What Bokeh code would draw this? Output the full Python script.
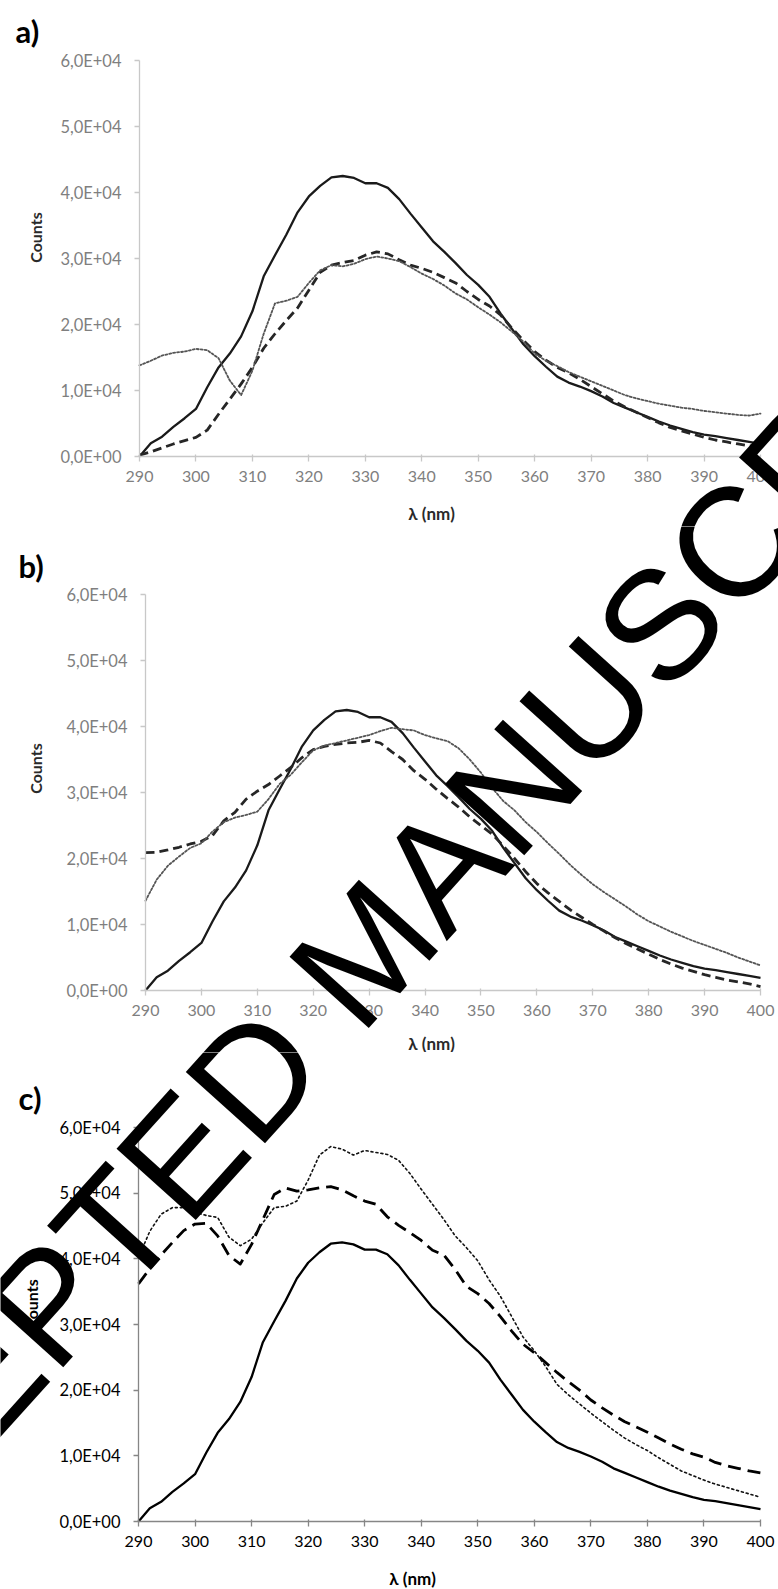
import math
from bokeh.plotting import figure
from bokeh.models import Label, FixedTicker, Range1d, LinearAxis
from bokeh.layouts import column
from bokeh.embed import file_html
from bokeh.resources import INLINE

# ---------------- data ----------------
wavelength = list(range(290, 402, 2))

reference_solid = [0, 2000, 3000, 4500, 5800, 7200, 10500, 13500, 15600, 18200,
                   22000, 27300, 30500, 33600, 37000, 39400, 41000, 42300, 42500, 42200,
                   41400, 41400, 40700, 39000, 36800, 34700, 32600, 31000, 29300, 27500,
                   26000, 24200, 21600, 19300, 17000, 15200, 13600, 12100, 11200, 10600,
                   9900, 9100, 8100, 7400, 6700, 6000, 5300, 4700, 4200, 3700,
                   3300, 3100, 2800, 2500, 2200, 1900]

a_dashed = [200, 700, 1300, 1900, 2400, 2900, 4000, 6400, 8700, 11000,
            13500, 16400, 18600, 20600, 22500, 25200, 27900, 29000, 29400, 29700,
            30500, 31000, 30700, 29800, 29000, 28500, 27900, 27100, 26300, 25000,
            23800, 22800, 21400, 19400, 17600, 15900, 14600, 13500, 12700, 11700,
            10600, 9500, 8400, 7500, 6700, 5900, 5100, 4400, 3900, 3400,
            2900, 2500, 2200, 1900, 1600, 1600]

a_dotted = [13800, 14500, 15300, 15700, 15900, 16300, 16100, 14900, 11500, 9300,
            13000, 18600, 23200, 23600, 24200, 26300, 28200, 29000, 28800, 29200,
            29900, 30300, 30000, 29600, 28700, 27700, 26900, 25900, 24700, 23800,
            22600, 21500, 20300, 18900, 17400, 15600, 14500, 13700, 12800, 12100,
            11400, 10700, 10000, 9300, 8800, 8400, 8000, 7700, 7400, 7200,
            6900, 6700, 6500, 6300, 6200, 6500]

b_dashed = [20900, 20950, 21300, 21700, 22200, 22600, 23500, 25700, 27000, 29000,
            30200, 31200, 32500, 33800, 35300, 36500, 37000, 37300, 37500, 37600,
            37900, 37500, 36200, 35000, 33300, 32000, 30500, 29100, 27800, 26300,
            25000, 23700, 21900, 20000, 18000, 16200, 14800, 13500, 12200, 11100,
            10000, 9000, 8000, 7100, 6300, 5500, 4700, 4000, 3400, 2900,
            2400, 2000, 1600, 1300, 1000, 600]

b_dotted = [13600, 16800, 18900, 20300, 21600, 22300, 24100, 25500, 26200, 26600,
            27100, 29000, 31300, 32700, 34600, 36400, 37100, 37500, 37900, 38300,
            38700, 39300, 39800, 39600, 39400, 38700, 38200, 37800, 36700, 35000,
            33000, 30700, 28700, 27300, 25500, 24000, 22300, 20700, 19000, 17500,
            16100, 14900, 13800, 12700, 11500, 10500, 9700, 8900, 8200, 7500,
            6900, 6300, 5700, 5000, 4400, 3800]

c_dashed = [36200, 38500, 40600, 42500, 44300, 45300, 45400, 43500, 40500, 39200,
            42200, 46000, 49800, 50800, 50300, 50500, 50800, 51000, 50500, 49600,
            48800, 48300, 46400, 45100, 44000, 42800, 41300, 40600, 38400, 35800,
            34700, 33200, 31200, 29000, 27000, 25700, 24200, 22700, 21300, 20000,
            18500, 17300, 16200, 15200, 14400, 13600, 12700, 11800, 11000, 10300,
            9800, 9000, 8500, 8100, 7700, 7400]

c_dotted = [40200, 44200, 46800, 47800, 47800, 47100, 46600, 46300, 43300, 42000,
            43000, 45500, 47800, 48000, 48800, 52000, 55800, 57100, 56700, 55800,
            56500, 56200, 55900, 55000, 53000, 50600, 48300, 46000, 43500, 41700,
            39700, 36800, 34300, 31200, 28100, 26000, 23600, 20900, 19300, 17900,
            16500, 15200, 13900, 12700, 11700, 10800, 9700, 8700, 7700, 7000,
            6300, 5700, 5200, 4700, 4200, 3700]

x_ticks = [290, 300, 310, 320, 330, 340, 350, 360, 370, 380, 390, 400]
y_ticks = [0, 10000, 20000, 30000, 40000, 50000, 60000]
y_tick_labels = ["0,0E+00", "1,0E+04", "2,0E+04", "3,0E+04", "4,0E+04", "5,0E+04", "6,0E+04"]
panel_letters = ["a)", "b)", "c)"]
x_title = "λ (nm)"
y_title = "Counts"
watermark_text = "ACCEPTED MANUSCRIPT"

X0, X1 = 290, 400
Y0, Y1 = 0, 60000

# ---------------- layout (page pixel geometry) ----------------
W = 778
PAGE = 0
# canvas_top, canvas_bottom, frame_left, frame_right, frame_top, frame_bottom
GEOMS = [
    (0, 526, 139, 760, 60, 456),
    (526, 1052, 145, 760, 594, 990),
    (1052, 1589, 138, 760, 1127, 1521),
]
LETTER_POS = [(15, 30), (18, 565), (18, 1097)]
YTITLE_POS = [(35, 237), (35, 768), (31, 1304)]
XTITLE_POS = [(431, 513), (431, 1043), (412, 1578)]
WM_CENTER = (366, 950)
WM_ANGLE = math.radians(48)
WM_SIZE = "155px"

SCAN = dict(tick_color="#7f7f7f", axis_color="#c8c8c8", solid="#1a1a1a",
            dashed="#262626", dotted="#555555", dash="9 5", dot="2 2",
            dot_w=1.8, title_color="#2a2a2a", ytick_size="16.5px")
CRISP = dict(tick_color="#000000", axis_color="#868686", solid="#000000",
             dashed="#000000", dotted="#111111", dash="13 7", dot="2 3",
             dot_w=1.6, title_color="#000000", ytick_size="16.5px")

FONT = "Lato"


def make_panel(i, dashed, dotted, st):
    ctop, cbot, L, R, ftop, fbot = GEOMS[i]
    H = cbot - ctop
    kx = (X1 - X0) / (R - L)
    ky = (Y1 - Y0) / (fbot - ftop)
    # the drawing area covers the whole canvas; data box placed via the ranges
    xr = Range1d(X0 - (L - PAGE) * kx, X0 + (W - (L - PAGE)) * kx)
    yr = Range1d(Y0 - (cbot - fbot) * ky, Y1 + (ftop - ctop) * ky)
    p = figure(width=W, height=H, output_backend="svg", toolbar_location=None,
               x_range=xr, y_range=yr, x_axis_type=None, y_axis_type=None,
               min_border=0, min_border_left=0, min_border_right=0,
               min_border_top=0, min_border_bottom=0,
               background_fill_color="white", border_fill_color="white")
    p.outline_line_color = None

    def to_data(px, py):
        return (X0 + (px - L) * kx, Y0 + (fbot - py) * ky)

    # curves
    p.line(wavelength, reference_solid, line_color=st["solid"], line_width=2.3,
           line_join="round")
    p.line(wavelength, dashed, line_color=st["dashed"], line_width=2.8,
           line_dash=st["dash"], line_join="round")
    p.line(wavelength, dotted, line_color=st["dotted"], line_width=st["dot_w"],
           line_dash=st["dot"], line_cap="round", line_join="round")

    # axes, fixed at the data box edges
    xaxis = LinearAxis(fixed_location=Y0, bounds=(X0, X1),
                       ticker=FixedTicker(ticks=x_ticks))
    yaxis = LinearAxis(fixed_location=X0, bounds=(Y0, Y1),
                       ticker=FixedTicker(ticks=y_ticks))
    yaxis.major_label_overrides = {t: s for t, s in zip(y_ticks, y_tick_labels)}
    for ax in (xaxis, yaxis):
        ax.axis_line_color = st["axis_color"]
        ax.axis_line_width = 1.3
        ax.major_tick_line_color = st["axis_color"]
        ax.major_tick_line_width = 1.3
        ax.minor_tick_line_color = None
        ax.major_label_text_font = FONT
        ax.major_label_text_font_size = "16px"
        ax.major_label_text_color = st["tick_color"]
    yaxis.major_label_text_font_size = st["ytick_size"]
    xaxis.major_tick_in = 2
    xaxis.major_tick_out = 5
    yaxis.major_tick_in = 0
    yaxis.major_tick_out = 5
    xaxis.major_label_standoff = 9
    yaxis.major_label_standoff = 13
    p.add_layout(xaxis, "below")
    p.add_layout(yaxis, "left")

    # titles
    x, y = to_data(*XTITLE_POS[i])
    p.add_layout(Label(x=x, y=y, text=x_title, text_font=FONT, text_font_size="17px",
                       text_font_style="bold", text_color=st["title_color"],
                       text_align="center", text_baseline="middle"))
    x, y = to_data(*YTITLE_POS[i])
    p.add_layout(Label(x=x, y=y, text=y_title, text_font=FONT, text_font_size="16px",
                       text_font_style="bold", text_color=st["title_color"],
                       angle=math.pi / 2, text_align="center", text_baseline="middle"))
    lx, ly = LETTER_POS[i]
    x, y = to_data(lx, ly)
    p.add_layout(Label(x=x, y=y, text=panel_letters[i], text_font=FONT,
                       text_font_size="31px", text_font_style="bold",
                       text_color="#000000", text_align="left", text_baseline="middle"))

    # watermark (drawn in every panel at the same page position)
    x, y = to_data(*WM_CENTER)
    p.add_layout(Label(x=x, y=y, text=watermark_text, text_font="Liberation Sans",
                       text_font_size=WM_SIZE, text_color="#000000",
                       angle=WM_ANGLE, text_align="center", text_baseline="middle"))
    return p


pa = make_panel(0, a_dashed, a_dotted, SCAN)
pb = make_panel(1, b_dashed, b_dotted, SCAN)
pc = make_panel(2, c_dashed, c_dotted, CRISP)

layout = column(pa, pb, pc, spacing=0)
open("out.html", "w").write(file_html(layout, INLINE))
